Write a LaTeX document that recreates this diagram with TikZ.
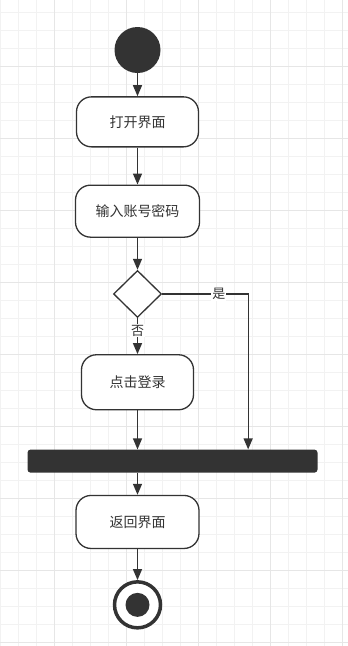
\documentclass[tikz,border=0pt]{standalone}
\usepackage{fontspec}
\setmainfont{Noto Sans CJK SC}
\usetikzlibrary{arrows.meta,positioning,shapes.geometric}
\definecolor{linec}{HTML}{333333}
\definecolor{textc}{HTML}{333333}
\definecolor{gridc}{HTML}{F2F2F2}
\definecolor{gridmaj}{HTML}{E6E6E6}

\begin{document}
\begin{tikzpicture}[x=1pt,y=-1pt,node distance=30pt,box/.style={draw=linec,line width=1.3pt,rounded corners=15pt,fill=white,minimum width=122pt,minimum height=50pt,font=\fontsize{14}{16}\selectfont,text=textc},flow/.style={-{Triangle[length=11pt,width=9pt]},line width=1.3pt,draw=linec},lbl/.style={fill=white,inner sep=1pt,font=\fontsize{13}{15}\selectfont,text=textc}]
\fill[white] (0,0) rectangle (348,646);
\useasboundingbox (0,0) rectangle (348,646);
\foreach \gx in {0,18,...,342} \draw[gridc,line width=1pt] (\gx,0)--(\gx,646);
\foreach \gy in {12,30,...,642} \draw[gridc,line width=1pt] (0,\gy)--(348,\gy);
\foreach \gx in {54,126,198,270,342} \draw[gridmaj,line width=1pt] (\gx,0)--(\gx,646);
\foreach \gy in {66,138,210,282,354,426,498,570,642} \draw[gridmaj,line width=1pt] (0,\gy)--(348,\gy);
\node[circle,fill=linec,minimum size=46pt,inner sep=0] (start) at (137.5,50) {};
\node[box,below=23pt of start] (open) {打开界面};
\node[box,below=37pt of open,minimum width=124pt,minimum height=52pt] (input) {输入账号密码};
\node[diamond,draw=linec,line width=1.3pt,fill=white,minimum width=48pt,minimum height=47pt,inner sep=0,below=32pt of input] (check) {};
\node[box,below=36pt of check,minimum width=112pt,minimum height=55pt] (login) {点击登录};
\node[rectangle,fill=linec,rounded corners=3pt,minimum width=290pt,minimum height=23pt,inner sep=0,below=39pt of login,xshift=35pt] (bar) {};
\node[box,below=22pt of bar.south -| login,anchor=north,minimum width=123pt,minimum height=53pt] (back) {返回界面};
\node[circle,draw=linec,line width=3.5pt,fill=white,minimum size=46pt,inner sep=0,below=31pt of back,path picture={\fill[linec] (path picture bounding box.center) circle (12pt);}] (end) {};
\draw[flow] (start)--(open);\draw[flow] (open)--(input);\draw[flow] (input)--(check);
\draw[flow] (check)--node[lbl,pos=0.35]{否}(login);
\draw[flow] (login)--(login |- bar.north);
\draw[flow] (check.east)--node[lbl,pos=0.66]{是}++(86,0) coordinate (yes)--(yes |- bar.north);
\draw[flow] (bar.south -| back)--(back);\draw[flow] (back)--(end);
\end{tikzpicture}
\end{document}
